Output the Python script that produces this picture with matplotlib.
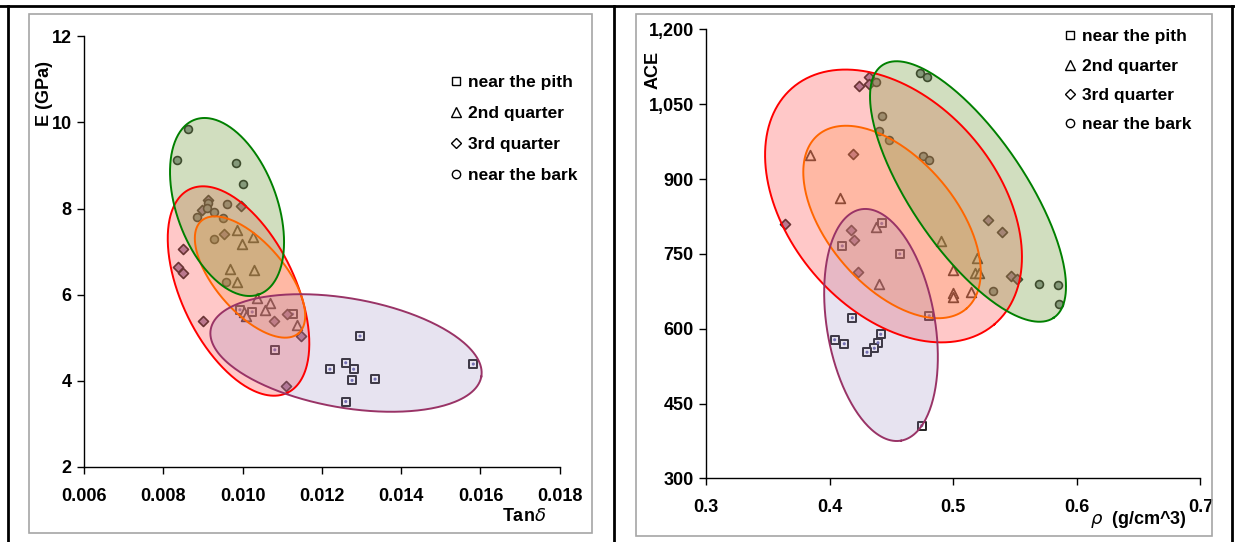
import numpy as np
import matplotlib
matplotlib.use("Agg")
import matplotlib.pyplot as plt
from matplotlib.lines import Line2D
from matplotlib.patches import Rectangle
from matplotlib.ticker import FuncFormatter

plt.rcParams['font.family'] = ['Liberation Sans', 'DejaVu Sans']

# ---- left panel: E (GPa) vs Tan delta ----
pith_tan = [0.00993, 0.01024, 0.01126, 0.01081, 0.01296, 0.01260, 0.01220, 0.01280, 0.01276, 0.01334, 0.01260, 0.01582]
pith_E = [5.65, 5.60, 5.55, 4.72, 5.04, 4.42, 4.27, 4.27, 4.01, 4.04, 3.52, 4.39]
q2_tan = [0.00985, 0.01025, 0.00998, 0.00967, 0.01029, 0.00986, 0.01035, 0.01068, 0.01055, 0.01004, 0.01008, 0.01136]
q2_E = [7.50, 7.35, 7.17, 6.60, 6.57, 6.29, 5.92, 5.80, 5.64, 5.60, 5.51, 5.30]
q3_tan = [0.00912, 0.00897, 0.00995, 0.00952, 0.00849, 0.00836, 0.00849, 0.00901, 0.01078, 0.01111, 0.01148, 0.01109]
q3_E = [8.20, 7.97, 8.06, 7.42, 7.07, 6.65, 6.50, 5.38, 5.39, 5.55, 5.05, 3.89]
bark_tan = [0.00861, 0.00835, 0.00984, 0.01001, 0.00960, 0.00913, 0.00910, 0.00885, 0.00928, 0.00950, 0.00928, 0.00958]
bark_E = [9.85, 9.13, 9.07, 8.57, 8.11, 8.12, 8.02, 7.81, 7.91, 7.78, 7.30, 6.30]

# ---- right panel: ACE vs density ----
pith_rho = [0.4420, 0.4101, 0.4566, 0.4805, 0.4182, 0.4039, 0.4117, 0.4412, 0.4390, 0.4360, 0.4301, 0.4744]
pith_ace = [811, 766, 750, 626, 622, 578, 570, 589, 572, 561, 553, 406]
q2_rho = [0.3837, 0.4085, 0.4371, 0.4396, 0.4898, 0.4997, 0.4995, 0.5000, 0.5140, 0.5194, 0.5175, 0.5210]
q2_ace = [948, 863, 803, 690, 775, 718, 671, 664, 674, 741, 711, 712]
q3_rho = [0.4317, 0.4239, 0.4317, 0.4188, 0.4174, 0.4198, 0.4231, 0.5280, 0.5391, 0.5467, 0.5513, 0.3638]
q3_ace = [1105, 1087, 1091, 950, 798, 778, 714, 818, 793, 706, 700, 809]
bark_rho = [0.4371, 0.4425, 0.4401, 0.4479, 0.4729, 0.4784, 0.4757, 0.4805, 0.5318, 0.5691, 0.5847, 0.5858]
bark_ace = [1095, 1026, 997, 979, 1112, 1104, 946, 938, 676, 690, 687, 650]

labels = ['near the pith', '2nd quarter', '3rd quarter', 'near the bark']

# group ellipses: centre, two conjugate semi-axes (data units)
left_ell = {
    'red': ((0.009894, 6.086), (0.001234, -2.363), (0.001292, 0.572)),
    'orange': ((0.010184, 6.411), (0.001224, -1.307), (0.000664, 0.525)),
    'purple': ((0.012607, 4.647), (0.003415, -0.546), (0.000237, 1.251)),
    'green': ((0.009604, 8.037), (0.000815, -2.027), (0.001186, 0.404)),
}
right_ell = {
    'red': ((0.45155, 846.1), (0.0816, -237.3), (0.06444, 135.7)),
    'orange': ((0.45033, 814.0), (0.06007, -174.0), (0.03935, 83.2)),
    'purple': ((0.44143, 607.6), (0.01619, -231.8), (0.04307, 18.5)),
    'green': ((0.51186, 875.1), (0.06946, -252.9), (0.03829, 64.6)),
}
ell_style = {
    'red': ('#ff0000', '#ff5a5a', 0.33),
    'orange': ('#ff6600', '#ff8c3c', 0.25),
    'purple': ('#993366', '#9682be', 0.22),
    'green': ('#008000', '#78a046', 0.34),
}


def draw_panel(ax, series, ells):
    pith, q2, q3, bark = series
    ax.scatter(*pith, marker='s', s=32, facecolor='white', edgecolor='#222222', linewidth=1.4, zorder=2)
    ax.scatter(*pith, marker='o', s=5, facecolor='#6a6ab0', edgecolor='none', zorder=2)
    ax.scatter(*q2, marker='^', s=48, facecolor='white', edgecolor='#222222', linewidth=1.3, zorder=2)
    ax.scatter(*q3, marker='D', s=26, facecolor='#9a86a8', edgecolor='#222222', linewidth=1.2, zorder=2)
    ax.scatter(*bark, marker='o', s=32, facecolor='#8c9696', edgecolor='#222222', linewidth=1.2, zorder=2)

    t = np.linspace(0, 2 * np.pi, 300)
    for name in ['red', 'orange', 'purple', 'green']:
        c, u, v = ells[name]
        ex = c[0] + u[0] * np.cos(t) + v[0] * np.sin(t)
        ey = c[1] + u[1] * np.cos(t) + v[1] * np.sin(t)
        edge, face, a = ell_style[name]
        ax.fill(ex, ey, color=face, alpha=a, lw=0, zorder=3)
        ax.plot(ex, ey, color=edge, lw=1.4, zorder=4)

    for s in ['top', 'right']:
        ax.spines[s].set_visible(False)
    for s in ['left', 'bottom']:
        ax.spines[s].set_linewidth(1.0)
    ax.tick_params(direction='out', length=5, width=1, labelsize=13)
    ax.tick_params(axis='x', pad=10)
    ax.tick_params(axis='y', pad=4)
    for lab in ax.get_xticklabels() + ax.get_yticklabels():
        lab.set_fontweight('bold')

    handles = [Line2D([], [], ls='none', marker=m, ms=ms, mfc='white', mec='black', mew=1.0)
               for m, ms in zip(['s', '^', 'D', 'o'], [6, 6.5, 5, 6])]
    return handles


fig = plt.figure(figsize=(12.35, 5.42), dpi=100)

ax1 = fig.add_axes([0.0682, 0.1384, 0.3850, 0.7946])
ax1.set_xlim(0.006, 0.018)
ax1.set_ylim(2, 12)
ax1.set_xticks(np.arange(0.006, 0.0181, 0.002))
ax1.set_yticks(np.arange(2, 13, 2))
ax1.xaxis.set_major_formatter(FuncFormatter(lambda x, p: f'{x:.3f}'))
h1 = draw_panel(ax1, [(pith_tan, pith_E), (q2_tan, q2_E), (q3_tan, q3_E), (bark_tan, bark_E)], left_ell)
ax1.legend(h1, labels, loc='upper left', bbox_to_anchor=(0.752, 0.93), frameon=False,
           borderpad=0, handlelength=0.6, handletextpad=0.4, labelspacing=0.9,
           prop={'size': 12.5, 'weight': 'bold'})
ax1.text(-0.0835, 0.867, 'E (GPa)', transform=ax1.transAxes, rotation=90,
         ha='center', va='center', fontsize=13, fontweight='bold')
ax1.text(0.925, -0.114, r'Tan$\delta$', transform=ax1.transAxes,
         ha='center', va='center', fontsize=13, fontweight='bold')

ax2 = fig.add_axes([0.5719, 0.1172, 0.4001, 0.8286])
ax2.set_xlim(0.3, 0.7)
ax2.set_ylim(300, 1200)
ax2.set_xticks([0.3, 0.4, 0.5, 0.6, 0.7])
ax2.set_yticks(np.arange(300, 1201, 150))
ax2.xaxis.set_major_formatter(FuncFormatter(lambda x, p: f'{x:.1f}'))
ax2.yaxis.set_major_formatter(FuncFormatter(lambda y, p: f'{int(y):,}'))
h2 = draw_panel(ax2, [(pith_rho, pith_ace), (q2_rho, q2_ace), (q3_rho, q3_ace), (bark_rho, bark_ace)], right_ell)
ax2.legend(h2, labels, loc='upper left', bbox_to_anchor=(0.708, 1.02), frameon=False,
           borderpad=0, handlelength=0.6, handletextpad=0.4, labelspacing=0.82,
           prop={'size': 12.5, 'weight': 'bold'})
ax2.text(-0.108, 0.91, 'ACE', transform=ax2.transAxes, rotation=90,
         ha='center', va='center', fontsize=13, fontweight='bold')
ax2.text(0.875, -0.092, r'$\rho$  (g/cm^3)', transform=ax2.transAxes,
         ha='center', va='center', fontsize=13, fontweight='bold')

# panel frames
W, H = 1235.0, 542.0
for x0, y0, x1, y1 in [(29, 14, 592, 533), (636, 14, 1212, 536)]:
    fig.add_artist(Rectangle((x0 / W, 1 - y1 / H), (x1 - x0) / W, (y1 - y0) / H,
                             transform=fig.transFigure, fill=False, ec='#a6a6a6', lw=1.2))
for xs, ys in [((0, 1), (1 - 6 / H, 1 - 6 / H)), ((8 / W, 8 / W), (0, 1 - 6 / H)),
               ((614 / W, 614 / W), (0, 1 - 6 / H)), ((1232 / W, 1232 / W), (0, 1 - 6 / H))]:
    fig.add_artist(Line2D(xs, ys, transform=fig.transFigure, color='black', lw=2))

fig.savefig('out.png', dpi=100)
